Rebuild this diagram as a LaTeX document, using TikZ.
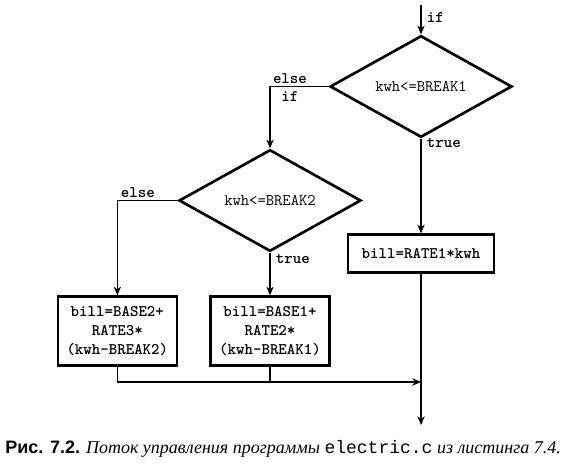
\documentclass[tikz,border=0pt]{standalone}
\usepackage{fontspec}
\setmainfont{Liberation Serif}
\newfontfamily\capsans{Liberation Sans}
\newfontfamily\capmono{Liberation Mono}
\usepackage{tikz}
\usetikzlibrary{positioning,calc,shapes.geometric,arrows.meta}

\begin{document}
\begin{tikzpicture}[
x=0.75pt, y=-0.75pt,
font=\ttfamily\fontsize{12.1}{14}\selectfont,
decision/.style={diamond, draw, line width=2pt, minimum width=136.5pt, minimum height=69.75pt, inner sep=0pt, align=center},
box/.style={rectangle, draw, line width=2pt, align=center, inner sep=0pt, font=\ttfamily\bfseries\fontsize{12.1}{14}\selectfont},
lbl/.style={font=\ttfamily\bfseries\fontsize{12.1}{12}\selectfont, inner sep=1pt},
arrow/.style={-{Stealth[length=6.5pt, width=5.5pt, inset=2pt]}, line width=0.9pt},
link/.style={line width=0.9pt}
]
\useasboundingbox (0,0) rectangle (578,465);

% --- FIRST TEST ---
\coordinate (start) at (421,5);
\node[decision] (test1) at (421,86.5) {kwh<=BREAK1};
\node[box, below=71pt of test1, minimum width=109.5pt, minimum height=28.5pt] (rate1) {bill=RATE1*kwh};

% --- SECOND TEST ---
\node[decision] (test2) at (270,200.5) {kwh<=BREAK2};
\node[box, below=32pt of test2, minimum width=89.25pt, minimum height=51.75pt] (rate2) {bill=BASE1+\\RATE2*\\(kwh-BREAK1)};
\node[box, left=23.25pt of rate2, minimum width=89.25pt, minimum height=51.75pt] (rate3) {bill=BASE2+\\RATE3*\\(kwh-BREAK2)};

% --- JOIN ---
\coordinate (join) at (421,382);
\coordinate (finish) at (421,425);

% --- FLOWS ---
\draw[arrow] (start) -- (test1) node[lbl, pos=0.42, right=3pt] {if};
\draw[arrow] (test1.west) -| (test2.north)
  node[lbl, pos=0.33, above=1pt] {else}
  node[lbl, pos=0.33, below=2pt] {if};
\draw[arrow] (test1.south) -- (rate1.north) node[lbl, pos=0.05, right=3pt] {true};
\draw[arrow] (test2.west) -| (rate3.north) node[lbl, pos=0.33, above=1pt] {else};
\draw[arrow] (test2.south) -- (rate2.north) node[lbl, pos=0.15, right=3pt] {true};
\draw[arrow] (rate3.south) |- (join);
\draw[link] (rate2.south) -- (rate2.south |- join);
\draw[arrow] (rate1.south) -- (finish);

% --- CAPTION ---
\node[anchor=base west, inner sep=0pt, font=\fontsize{13.5}{15}\selectfont] (caption) at (5,453)
  {{\capsans\bfseries Рис. 7.2.} {\itshape Поток управления программы} {\capmono electric.c} {\itshape из листинга 7.4.}};
\end{tikzpicture}
\end{document}
